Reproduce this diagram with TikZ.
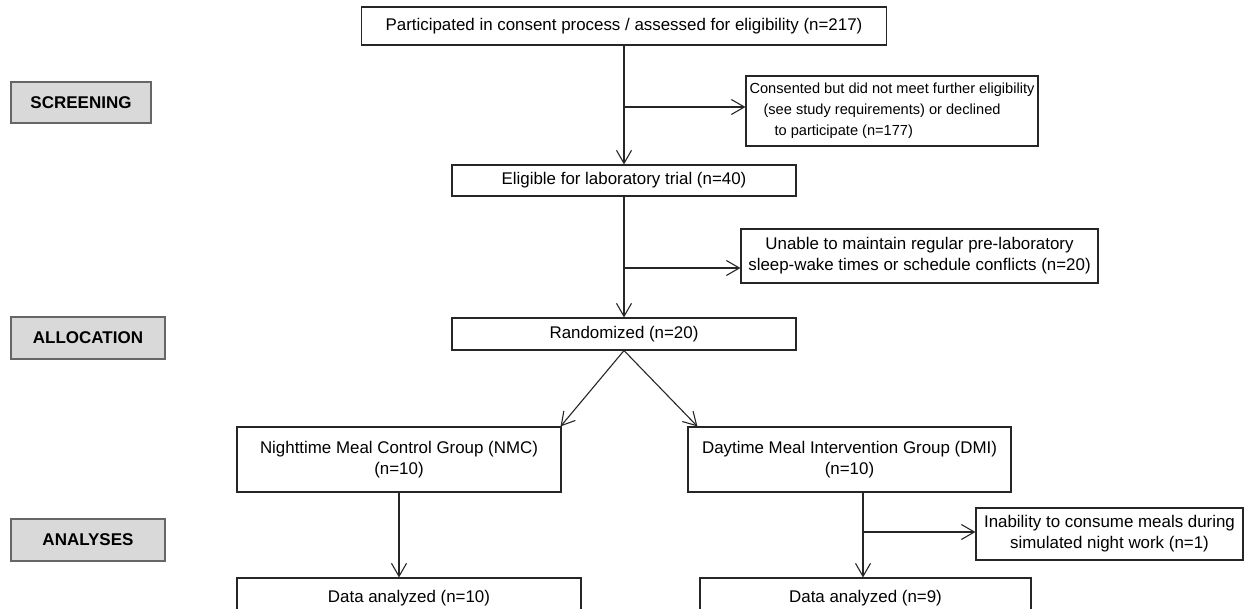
\documentclass[tikz,border=0pt]{standalone}
\usepackage{fontspec}
\setmainfont{Liberation Sans}
\usetikzlibrary{arrows.meta}

\begin{document}
\begin{tikzpicture}[x=1pt,y=-1pt,
  box/.style={draw=black!85, line width=1.1pt, fill=white, align=center, inner sep=0pt,
    font=\fontsize{16.9}{21}\selectfont},
  stage/.style={draw=black!60, line width=1.6pt, fill=black!15, inner sep=0pt,
    font=\fontsize{17}{20}\selectfont\bfseries},
  arr/.style={draw=black!85, line width=1.1pt, -{Straight Barb[length=13pt,width=15pt]}}]
\useasboundingbox (0,0) rectangle (1255,609);
% stage labels
\node[stage, minimum width=140pt, minimum height=41pt] (screen) at (81,102.5) {SCREENING};
\node[stage, minimum width=154pt, minimum height=42pt] (alloc) at (88,338) {ALLOCATION};
\node[stage, minimum width=154pt, minimum height=42pt] (analyses) at (88,540) {ANALYSES};
% flow boxes
\node[box, minimum width=525pt, minimum height=38pt] (consent) at (624,26)
  {Participated in consent process / assessed for eligibility (n=217)};
\node[box, align=left, font=\fontsize{14.6}{21}\selectfont,
  minimum width=292pt, minimum height=70pt] (declined) at (892,111)
  {Consented but did not meet further eligibility\\\hspace*{14pt}(see study requirements) or declined\\\hspace*{25pt}to participate (n=177)};
\node[box, minimum width=344pt, minimum height=31pt] (eligible) at (624,180.5)
  {Eligible for laboratory trial (n=40)};
\node[box, minimum width=357pt, minimum height=54pt] (unable) at (919.5,256)
  {Unable to maintain regular pre-laboratory\\sleep-wake times or schedule conflicts (n=20)};
\node[box, minimum width=344pt, minimum height=32pt] (random) at (624,334)
  {Randomized (n=20)};
\node[box, minimum width=324pt, minimum height=65pt] (nmc) at (399,459.5)
  {Nighttime Meal Control Group (NMC)\\(n=10)};
\node[box, minimum width=323pt, minimum height=65pt] (dmi) at (849.5,459.5)
  {Daytime Meal Intervention Group (DMI)\\(n=10)};
\node[box, minimum width=267pt, minimum height=52pt] (unable2) at (1109.5,534)
  {Inability to consume meals during\\simulated night work (n=1)};
\node[box, minimum width=344pt, minimum height=40pt] (dataA) at (409,598)
  {Data analyzed (n=10)};
\node[box, minimum width=331pt, minimum height=40pt] (dataB) at (865.5,598)
  {Data analyzed (n=9)};
% connectors
\coordinate (b1) at (624,107);
\coordinate (b2) at (624,268);
\coordinate (b3) at (863,532);
\draw[arr] (consent.south) -- (eligible.north);
\draw[arr] (b1) -- (b1 -| declined.west);
\draw[arr] (eligible.south) -- (random.north);
\draw[arr] (b2) -- (b2 -| unable.west);
\draw[arr] (random.south) -- ([xshift=-1pt]nmc.north east);
\draw[arr] (random.south) -- ([xshift=10pt]dmi.north west);
\draw[arr] (nmc.south) -- (nmc.south |- dataA.north);
\draw[arr] (b3 |- dmi.south) -- (b3 |- dataB.north);
\draw[arr] (b3) -- (b3 -| unable2.west);
\end{tikzpicture}
\end{document}
